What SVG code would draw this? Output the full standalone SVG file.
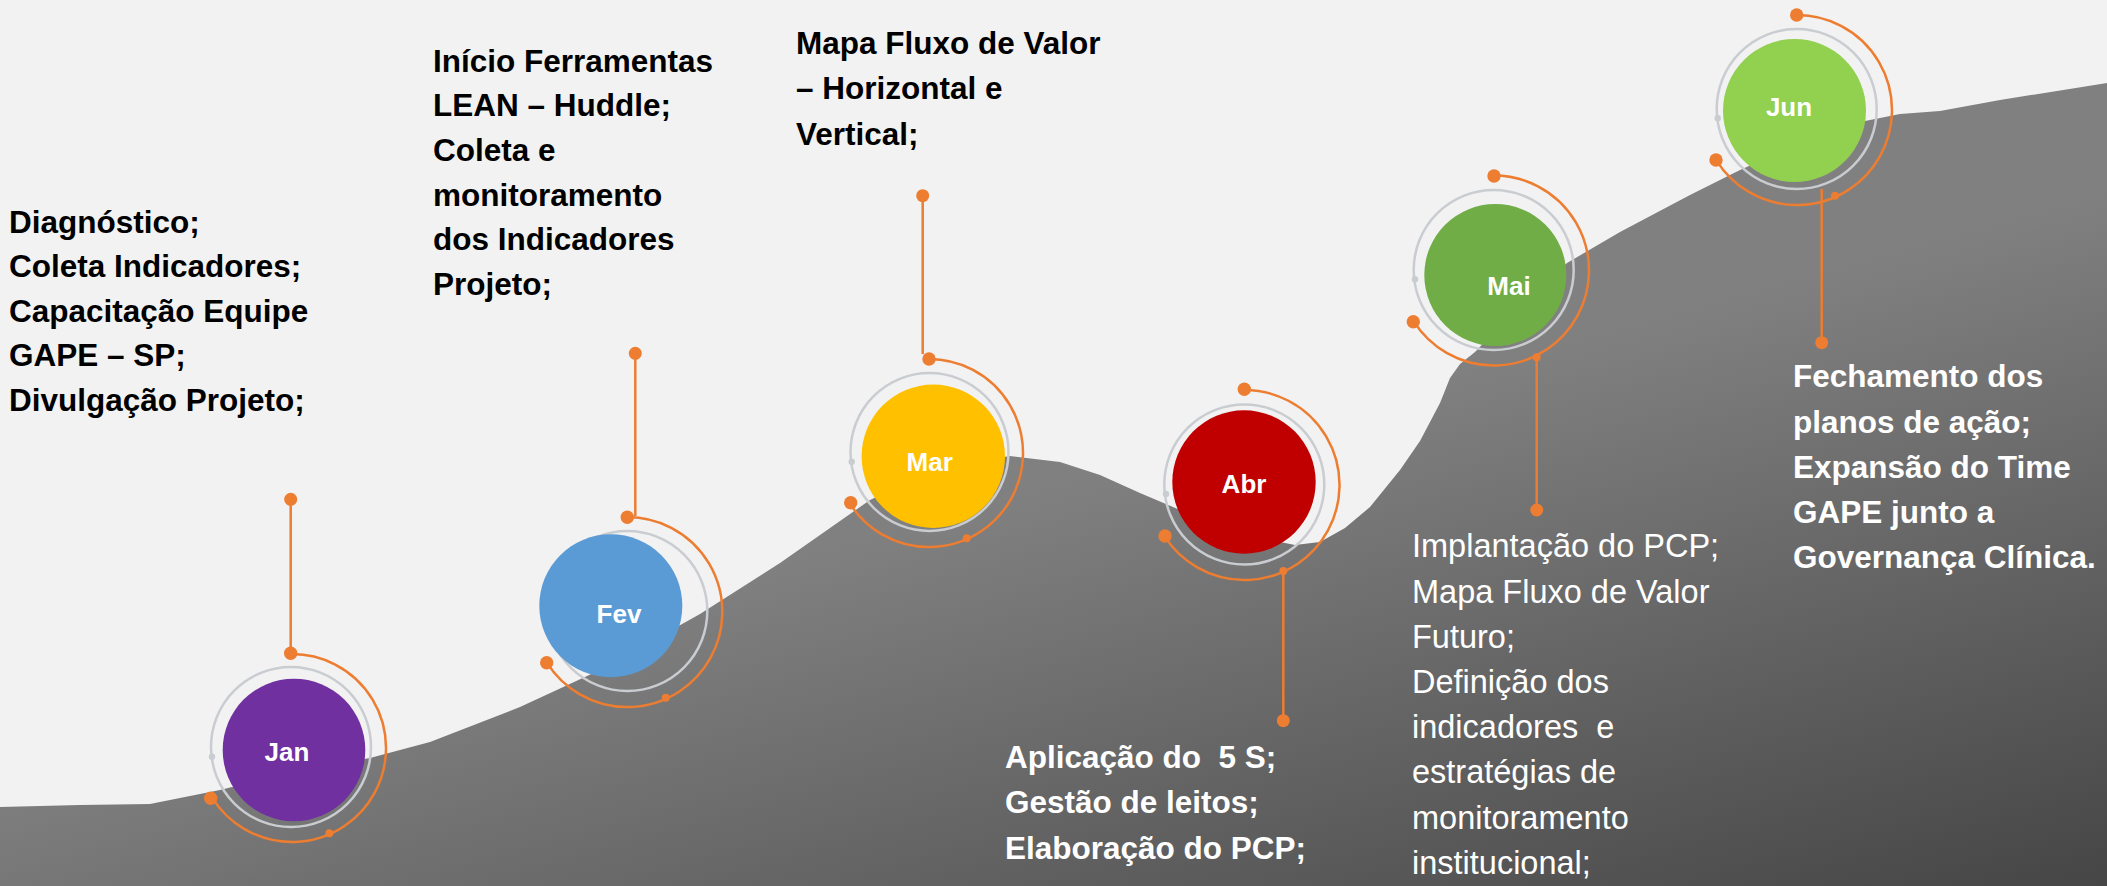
<svg xmlns="http://www.w3.org/2000/svg" width="2107" height="886" viewBox="0 0 2107 886">
<defs>
<linearGradient id="mtn" gradientUnits="userSpaceOnUse" x1="1000" y1="500" x2="1197" y2="1207">
<stop offset="0" stop-color="#808080"/>
<stop offset="1" stop-color="#404040"/>
</linearGradient>
<style>
.txt{font-family:"Liberation Sans",Arial,sans-serif;font-weight:bold;font-size:31.5px}
.lt{font-family:"Liberation Sans",Arial,sans-serif;font-weight:normal;font-size:32.5px;fill:#ffffff}
.blk{fill:#000000}
.wht{fill:#ffffff}
.mon{font-family:"Liberation Sans",Arial,sans-serif;font-weight:bold;font-size:26px;fill:#ffffff;text-anchor:middle}
.ring{fill:none;stroke:#C9CCD0;stroke-width:2.5}
.gdot{fill:#C9CCD0}
.arc{fill:none;stroke:#ED7D31;stroke-width:2.5}
.odot{fill:#ED7D31}
</style>
</defs>
<rect width="2107" height="886" fill="#F2F2F2"/>
<path id="mountain" fill="url(#mtn)" d="M0,807 L80,805 L150,804 L220,790 L300,770 L370,758 L430,742 L520,707 L600,670 L700,614 L780,563 L830,528 L870,500 L920,476 L960,464 L1010,456 L1060,462 L1100,475 L1140,493 L1180,510 L1220,526 L1260,538 L1295,545 L1320,542 L1345,528 L1370,507 L1400,470 L1420,441 L1440,403 L1450,378 L1460,364 L1475,352 L1500,326 L1535,292 L1567,263 L1620,232 L1690,195 L1740,170 L1800,143 L1860,122 L1900,114 L1940,111 L2000,100 L2107,83 L2107,886 L0,886 Z"/>

<g id="connectors">
<line class="arc" x1="290.7" y1="499" x2="290.7" y2="653"/>
<line class="arc" x1="635.3" y1="353" x2="635.3" y2="516"/>
<line class="arc" x1="922.7" y1="196" x2="922.7" y2="354"/>
<line class="arc" x1="1283.3" y1="571" x2="1283.3" y2="721"/>
<line class="arc" x1="1536.7" y1="357" x2="1536.7" y2="510"/>
<line class="arc" x1="1821.7" y1="189" x2="1821.7" y2="343"/>
<circle class="odot" cx="290.7" cy="499.3" r="6.5"/>
<circle class="odot" cx="635.3" cy="353.3" r="6.5"/>
<circle class="odot" cx="922.7" cy="195.7" r="6.5"/>
<circle class="odot" cx="1283.3" cy="720.7" r="6.5"/>
<circle class="odot" cx="1536.7" cy="510" r="6.5"/>
<circle class="odot" cx="1821.7" cy="342.7" r="6.5"/>
</g>

<g id="node-jan">
<circle class="ring" cx="291" cy="747" r="80"/>
<circle class="gdot" cx="212" cy="756.7" r="3.2"/>
<circle cx="294" cy="750" r="71.3" fill="#7030A0"/>
<path class="arc" d="M291,654 A94,94 0 1 1 212.3,797.8"/>
<circle class="odot" cx="290.7" cy="653.3" r="6.7"/>
<circle class="odot" cx="210.7" cy="798.3" r="6.7"/>
<circle class="odot" cx="329.3" cy="833.3" r="4"/>
<text class="mon" x="287" y="760.5">Jan</text>
</g>

<g id="node-fev">
<circle class="ring" cx="627.3" cy="611" r="80"/>
<circle class="gdot" cx="548" cy="620" r="3.2"/>
<circle cx="610.8" cy="605.7" r="71.5" fill="#5B9BD5"/>
<path class="arc" d="M627.3,517 A95,95 0 1 1 546.9,662.6"/>
<circle class="odot" cx="627.3" cy="517.3" r="6.7"/>
<circle class="odot" cx="546.7" cy="662.7" r="6.7"/>
<circle class="odot" cx="665.7" cy="697.7" r="4"/>
<text class="mon" x="619" y="623.3">Fev</text>
</g>

<g id="node-mar">
<circle class="ring" cx="929.5" cy="452" r="79"/>
<circle class="gdot" cx="851.7" cy="461.7" r="3.2"/>
<circle cx="933.3" cy="456.3" r="71.7" fill="#FFC000"/>
<path class="arc" d="M929,359 A94,94 0 1 1 849.6,503.3"/>
<circle class="odot" cx="929" cy="359" r="6.7"/>
<circle class="odot" cx="850.7" cy="502.7" r="6.7"/>
<circle class="odot" cx="966.7" cy="538.3" r="4"/>
<text class="mon" x="929.7" y="470.7">Mar</text>
</g>

<g id="node-abr">
<circle class="ring" cx="1244.3" cy="484.5" r="80"/>
<circle class="gdot" cx="1166" cy="494" r="3.2"/>
<circle cx="1244" cy="482" r="71.7" fill="#C00000"/>
<path class="arc" d="M1244.5,390 A95,95 0 1 1 1164.5,536.2"/>
<circle class="odot" cx="1244.3" cy="389.3" r="6.7"/>
<circle class="odot" cx="1165" cy="536" r="6.7"/>
<circle class="odot" cx="1283.3" cy="571" r="4"/>
<text class="mon" x="1244" y="492.7">Abr</text>
</g>

<g id="node-mai">
<circle class="ring" cx="1493.7" cy="270" r="80"/>
<circle class="gdot" cx="1415" cy="279.3" r="3.2"/>
<circle cx="1495.3" cy="275" r="71" fill="#70AD47"/>
<path class="arc" d="M1494,175.5 A95,95 0 1 1 1413.9,321.6"/>
<circle class="odot" cx="1494" cy="176" r="6.7"/>
<circle class="odot" cx="1413.3" cy="321.7" r="6.7"/>
<circle class="odot" cx="1536.7" cy="357.3" r="4"/>
<text class="mon" x="1509" y="295">Mai</text>
</g>

<g id="node-jun">
<circle class="ring" cx="1796.7" cy="109" r="80"/>
<circle class="gdot" cx="1717.7" cy="118.3" r="3.2"/>
<circle cx="1794.5" cy="110.5" r="71.5" fill="#92D050"/>
<path class="arc" d="M1797,15 A95,95 0 1 1 1716.4,160.3"/>
<circle class="odot" cx="1796.7" cy="15" r="6.7"/>
<circle class="odot" cx="1716" cy="160" r="6.7"/>
<circle class="odot" cx="1835" cy="195.7" r="4"/>
<text class="mon" x="1789" y="115.7">Jun</text>
</g>

<g id="text-jan" class="txt blk">
<text x="9" y="232.5">Diagnóstico;</text>
<text x="9" y="277.1">Coleta Indicadores;</text>
<text x="9" y="321.7">Capacitação Equipe</text>
<text x="9" y="366.3">GAPE – SP;</text>
<text x="9" y="410.9">Divulgação Projeto;</text>
</g>
<g id="text-fev" class="txt blk">
<text x="433" y="71.5">Início Ferramentas</text>
<text x="433" y="116.2">LEAN – Huddle;</text>
<text x="433" y="160.9">Coleta e</text>
<text x="433" y="205.6">monitoramento</text>
<text x="433" y="250.3">dos Indicadores</text>
<text x="433" y="295">Projeto;</text>
</g>
<g id="text-mar" class="txt blk">
<text x="796" y="53.5">Mapa Fluxo de Valor</text>
<text x="796" y="99.3">– Horizontal e</text>
<text x="796" y="145.1">Vertical;</text>
</g>
<g id="text-abr" class="txt wht">
<text x="1005" y="767.5" xml:space="preserve">Aplicação do  5 S;</text>
<text x="1005" y="813">Gestão de leitos;</text>
<text x="1005" y="858.5">Elaboração do PCP;</text>
</g>
<g id="text-mai" class="lt">
<text x="1412" y="557.3">Implantação do PCP;</text>
<text x="1412" y="602.5">Mapa Fluxo de Valor</text>
<text x="1412" y="647.7">Futuro;</text>
<text x="1412" y="692.9">Definição dos</text>
<text x="1412" y="738.1" xml:space="preserve">indicadores  e</text>
<text x="1412" y="783.3">estratégias de</text>
<text x="1412" y="828.5">monitoramento</text>
<text x="1412" y="873.7">institucional;</text>
</g>
<g id="text-jun" class="txt wht">
<text x="1793" y="387.3">Fechamento dos</text>
<text x="1793" y="432.5">planos de ação;</text>
<text x="1793" y="477.7">Expansão do Time</text>
<text x="1793" y="522.9">GAPE junto a</text>
<text x="1793" y="568.1">Governança Clínica.</text>
</g>
</svg>
